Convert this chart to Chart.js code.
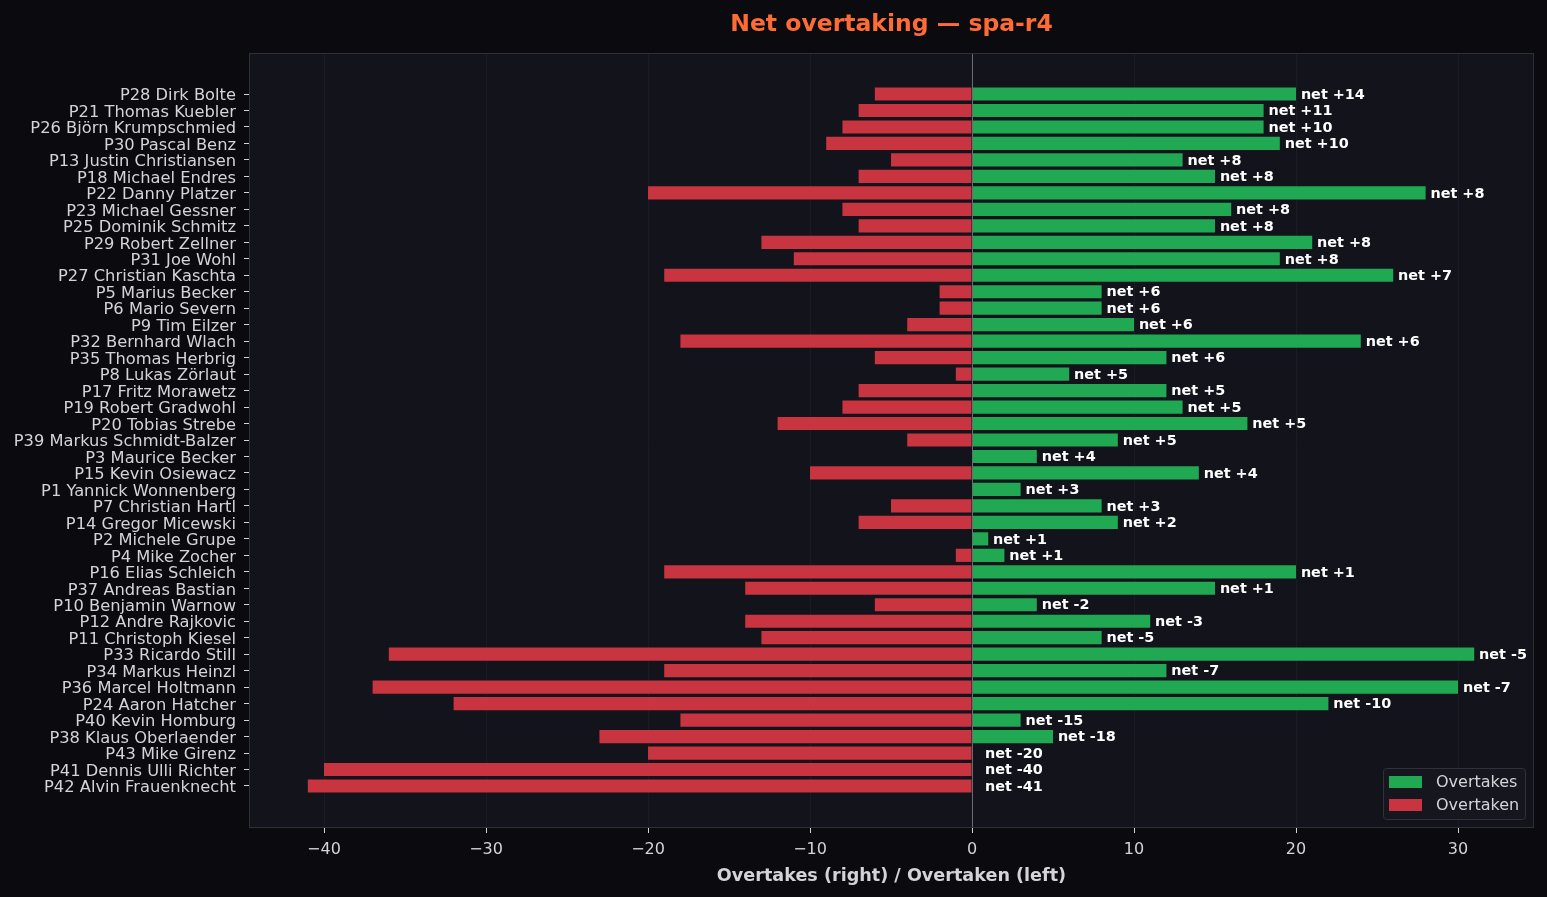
<!DOCTYPE html>
<html lang="en">
<head>
<meta charset="UTF-8">
<title>Net overtaking — spa-r4</title>
<script src="https://cdn.jsdelivr.net/npm/chart.js"></script>
<style>
  html, body { margin: 0; padding: 0; background: #0b0b0f; }
  #wrap { width: 1547px; height: 897px; }
</style>
</head>
<body>
<div id="wrap"><canvas id="chart"></canvas></div>
<script>
// drivers, top to bottom
const drivers = [
  'P28 Dirk Bolte', 'P21 Thomas Kuebler', 'P26 Björn Krumpschmied', 'P30 Pascal Benz',
  'P13 Justin Christiansen', 'P18 Michael Endres', 'P22 Danny Platzer', 'P23 Michael Gessner',
  'P25 Dominik Schmitz', 'P29 Robert Zellner', 'P31 Joe Wohl', 'P27 Christian Kaschta',
  'P5 Marius Becker', 'P6 Mario Severn', 'P9 Tim Eilzer', 'P32 Bernhard Wlach',
  'P35 Thomas Herbrig', 'P8 Lukas Zörlaut', 'P17 Fritz Morawetz', 'P19 Robert Gradwohl',
  'P20 Tobias Strebe', 'P39 Markus Schmidt-Balzer', 'P3 Maurice Becker', 'P15 Kevin Osiewacz',
  'P1 Yannick Wonnenberg', 'P7 Christian Hartl', 'P14 Gregor Micewski', 'P2 Michele Grupe',
  'P4 Mike Zocher', 'P16 Elias Schleich', 'P37 Andreas Bastian', 'P10 Benjamin Warnow',
  'P12 Andre Rajkovic', 'P11 Christoph Kiesel', 'P33 Ricardo Still', 'P34 Markus Heinzl',
  'P36 Marcel Holtmann', 'P24 Aaron Hatcher', 'P40 Kevin Homburg', 'P38 Klaus Oberlaender',
  'P43 Mike Girenz', 'P41 Dennis Ulli Richter', 'P42 Alvin Frauenknecht'
];
const overtakes = [
  20, 18, 18, 19, 13, 15, 28, 16, 15, 21, 19, 26,
  8, 8, 10, 24, 12, 6, 12, 13, 17, 9, 4, 14,
  3, 8, 9, 1, 2, 20, 15, 4, 11, 8, 31, 12,
  30, 22, 3, 5, 0, 0, 0
];
const overtaken = [
  6, 7, 8, 9, 5, 7, 20, 8, 7, 13, 11, 19,
  2, 2, 4, 18, 6, 1, 7, 8, 12, 4, 0, 10,
  0, 5, 7, 0, 1, 19, 14, 6, 14, 13, 36, 19,
  37, 32, 18, 23, 20, 40, 41
];
const xTicks = [-40, -30, -20, -10, 0, 10, 20, 30];

const GREEN = '#20a852';
const RED = '#c8343f';
const TEXT = '#d4d4d8';

// plot background, frame, net labels and legend
const decor = {
  id: 'decor',
  beforeDraw(chart) {
    const { ctx, chartArea: a } = chart;
    ctx.save();
    ctx.fillStyle = '#12131b';
    ctx.fillRect(a.left, a.top, a.right - a.left, a.bottom - a.top);
    ctx.restore();
  },
  afterDatasetsDraw(chart) {
    const { ctx, chartArea: a, scales } = chart;
    ctx.save();
    // zero line
    const x0 = Math.round(scales.x.getPixelForValue(0)) + 0.5;
    ctx.strokeStyle = '#6a6a72';
    ctx.lineWidth = 1;
    ctx.beginPath();
    ctx.moveTo(x0, a.top);
    ctx.lineTo(x0, a.bottom);
    ctx.stroke();
    // net labels
    ctx.font = 'bold 14.4px "DejaVu Sans"';
    ctx.fillStyle = '#ffffff';
    ctx.textBaseline = 'middle';
    ctx.textAlign = 'left';
    drivers.forEach((d, i) => {
      const net = overtakes[i] - overtaken[i];
      const txt = 'net ' + (net >= 0 ? '+' : '') + net;
      const px = scales.x.getPixelForValue(Math.max(overtakes[i], 0.5) + 0.3);
      const py = scales.y.getPixelForValue(i);
      ctx.fillText(txt, px, py + 1);
    });
    // frame
    ctx.strokeStyle = '#2e2f38';
    ctx.strokeRect(a.left + 0.5, a.top + 0.5, a.right - a.left - 1, a.bottom - a.top - 1);
    // legend
    const lx = a.right - 151, ly = a.bottom - 60, lw = 142, lh = 51;
    ctx.fillStyle = '#15161e';
    ctx.strokeStyle = '#30313a';
    ctx.beginPath();
    ctx.roundRect(lx + 0.5, ly + 0.5, lw, lh, 3);
    ctx.fill();
    ctx.stroke();
    const items = chart.data.datasets;
    ctx.font = '16px "DejaVu Sans"';
    items.forEach((ds, k) => {
      const yy = ly + 14 + k * 23;
      ctx.fillStyle = ds.backgroundColor;
      ctx.fillRect(lx + 6, yy - 6, 33, 12);
      ctx.fillStyle = TEXT;
      ctx.fillText(ds.label, lx + 53, yy + 1);
    });
    ctx.restore();
  }
};

new Chart(document.getElementById('chart'), {
  type: 'bar',
  data: {
    datasets: [
      {
        label: 'Overtakes',
        data: overtakes.map((v, i) => ({ x: v, y: i })),
        backgroundColor: GREEN
      },
      {
        label: 'Overtaken',
        data: overtaken.map((v, i) => ({ x: -v, y: i })),
        backgroundColor: RED
      }
    ]
  },
  options: {
    indexAxis: 'y',
    responsive: true,
    maintainAspectRatio: false,
    animation: false,
    grouped: false,
    barPercentage: 1,
    categoryPercentage: 0.8,
    layout: { padding: { right: 13, bottom: 0, left: 0, top: 0 } },
    plugins: {
      legend: { display: false },
      tooltip: { enabled: false },
      title: {
        display: true,
        fullSize: false,
        text: 'Net overtaking — spa-r4',
        color: '#ff6b35',
        font: { family: 'DejaVu Sans', size: 23.5, weight: 'bold' },
        padding: { top: 11, bottom: 13.8 }
      }
    },
    scales: {
      x: {
        type: 'linear',
        min: -44.63,
        max: 34.69,
        afterBuildTicks(scale) {
          scale.ticks = xTicks.map(v => ({ value: v }));
        },
        afterFit(scale) { scale.height = 69; },
        ticks: {
          color: TEXT,
          font: { family: 'DejaVu Sans', size: 16 },
          padding: 7,
          maxRotation: 0,
          callback: v => (v < 0 ? '\u2212' + Math.abs(v) : String(v))
        },
        grid: {
          color: ctx => (ctx.tick && ctx.tick.value === 0 ? 'rgba(0,0,0,0)' : '#1a1b24'),
          tickColor: TEXT,
          tickLength: 5,
          lineWidth: 1,
          offset: false
        },
        border: { display: false },
        title: {
          display: true,
          text: 'Overtakes (right) / Overtaken (left)',
          color: TEXT,
          font: { family: 'DejaVu Sans', size: 17.6, weight: 'bold' },
          padding: { top: 6, bottom: 10 }
        }
      },
      y: {
        type: 'linear',
        reverse: true,
        offset: false,
        min: -2.49,
        max: 44.55,
        afterBuildTicks(scale) {
          scale.ticks = drivers.map((d, i) => ({ value: i }));
        },
        afterFit(scale) { scale.width = 249; },
        ticks: {
          color: TEXT,
          font: { family: 'DejaVu Sans', size: 16.3 },
          padding: 8,
          labelOffset: 2,
          autoSkip: false,
          callback: v => drivers[v] || ''
        },
        grid: {
          drawOnChartArea: false,
          tickColor: TEXT,
          tickLength: 5,
          offset: false
        },
        border: { display: false }
      }
    }
  },
  plugins: [decor]
});
</script>
</body>
</html>
